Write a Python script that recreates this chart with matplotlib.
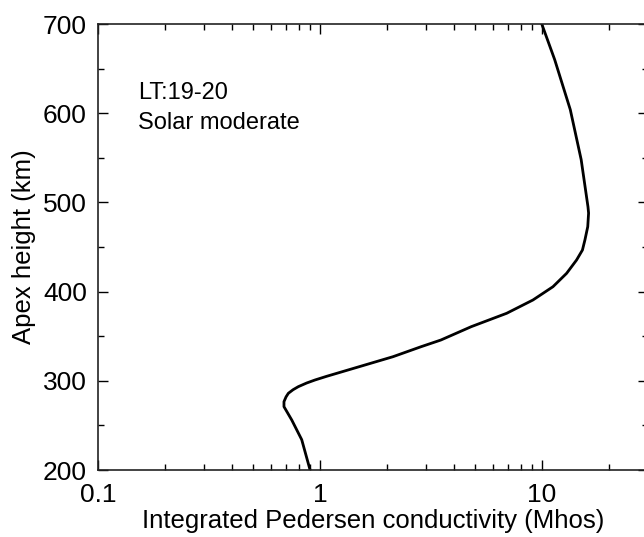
import numpy as np
import matplotlib
matplotlib.use("Agg")
import matplotlib.pyplot as plt
from matplotlib.ticker import LogLocator, FixedLocator, NullFormatter, FuncFormatter

plt.rcParams['font.family'] = ['Liberation Sans', 'DejaVu Sans']

### profil (hauteur apex km, conductivite Mhos)
height = [700, 660, 604, 548, 495, 488, 472.8, 458, 446.6, 435.4, 420.5,
          405.5, 390.6, 375.7, 360.7, 345.7, 338.2, 327, 316, 305, 300.9,
          297.5, 293.4, 290, 286, 282, 276.6, 271, 256, 234, 200]
sigma_p = [9.97, 11.4, 13.4, 15.0, 16.1, 16.2, 16.06, 15.6, 15.2, 14.3,
           12.9, 11.2, 9.1, 6.93, 4.8, 3.5, 2.85, 2.13, 1.51, 1.07, 0.949,
           0.87, 0.798, 0.756, 0.72, 0.703, 0.688, 0.688, 0.746, 0.827, 0.902]

x_ticks = [0.1, 1, 10]
x_tick_labels = ["0.1", "1", "10"]
y_ticks = [200, 300, 400, 500, 600, 700]

fig = plt.figure(figsize=(6.44, 5.37), dpi=100)
ax = fig.add_axes([98/644, 1 - 470/537, 550/644, 446/537])

ax.plot(sigma_p, height, color="black", lw=2)

ax.set_xscale("log")
ax.set_xlim(0.1, 30)
ax.set_ylim(200, 700)

ax.xaxis.set_major_locator(FixedLocator(x_ticks))
ax.xaxis.set_major_formatter(FuncFormatter(lambda v, p: x_tick_labels[x_ticks.index(v)] if v in x_ticks else ""))
ax.xaxis.set_minor_locator(LogLocator(base=10, subs=np.arange(2, 10), numticks=20))
ax.xaxis.set_minor_formatter(NullFormatter())
ax.set_yticks(y_ticks)
ax.set_yticks(np.arange(250, 700, 100), minor=True)

ax.tick_params(which="both", direction="in", top=True, right=True, labelsize=19, width=1)
ax.tick_params(which="major", length=7)
ax.tick_params(which="minor", length=4)
ax.tick_params(axis="x", which="major", pad=9)
ax.tick_params(axis="y", which="major", pad=8)
for s in ax.spines.values():
    s.set_linewidth(1.2)
    s.set_color("#222222")

ax.set_xlabel("Integrated Pedersen conductivity (Mhos)", fontsize=18.5, labelpad=2)
ax.set_ylabel("Apex height (km)", fontsize=18.5, labelpad=5)

ax.text(0.073, 0.870, "LT:19-20", transform=ax.transAxes, fontsize=17, va="top")
ax.text(0.073, 0.802, "Solar moderate", transform=ax.transAxes, fontsize=17, va="top")

fig.savefig("out.png", dpi=100)
